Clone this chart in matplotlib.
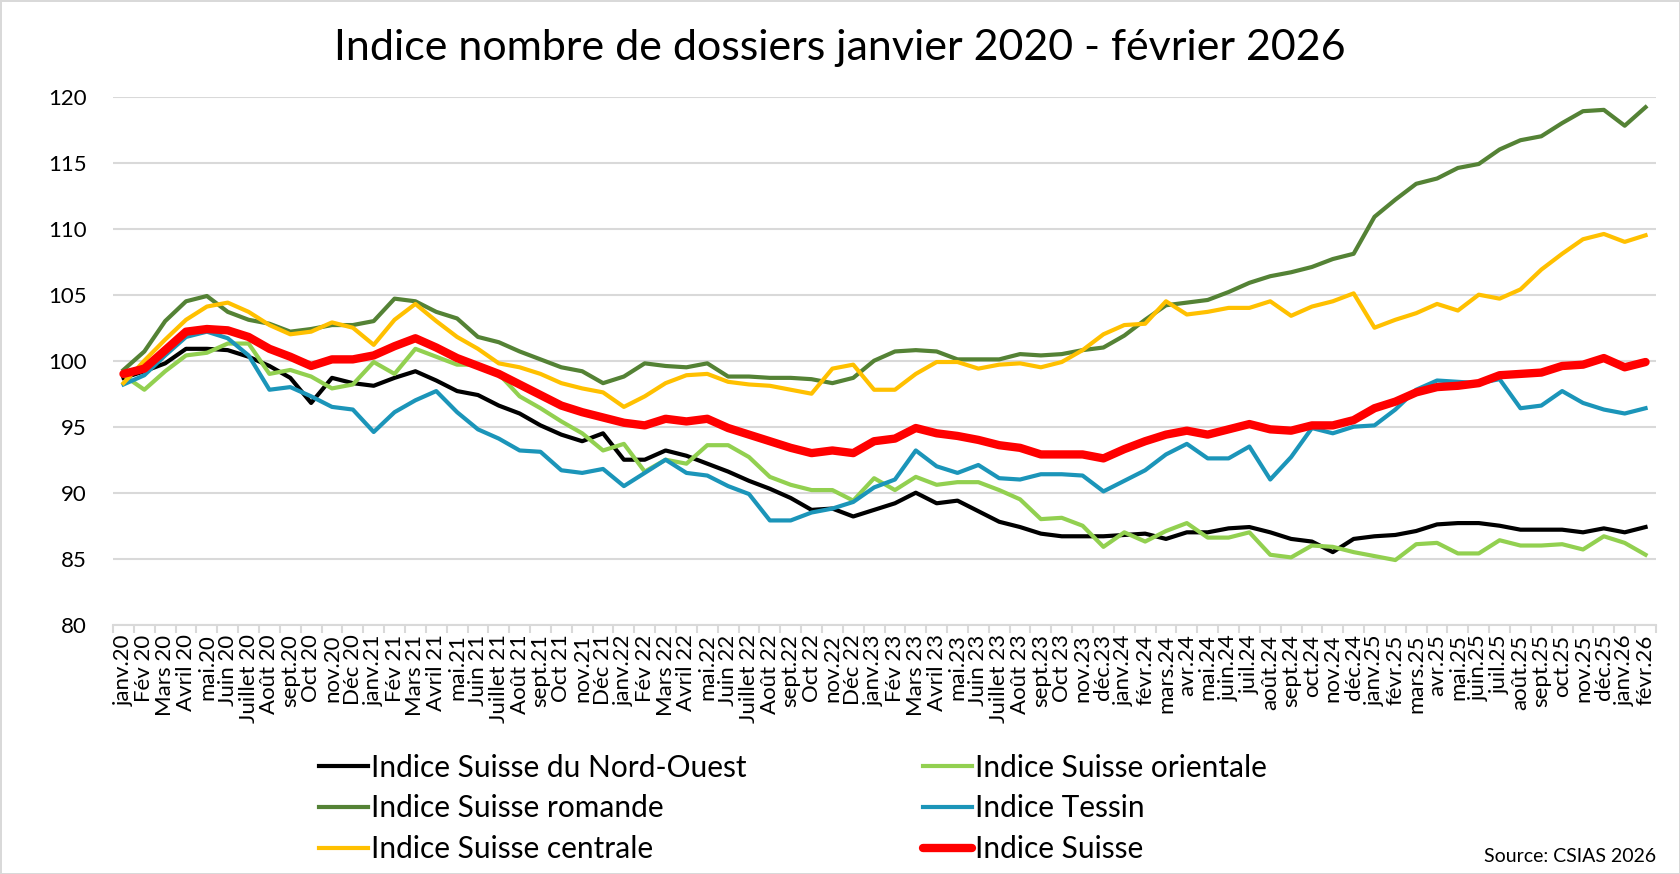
import matplotlib.pyplot as plt

months = ["janv.20", "Fév 20", "Mars 20", "Avril 20", "mai.20", "Juin 20", "Juillet 20", "Août 20",
          "sept.20", "Oct 20", "nov.20", "Déc 20",
          "janv.21", "Fév 21", "Mars 21", "Avril 21", "mai.21", "Juin 21", "Juillet 21", "Août 21",
          "sept.21", "Oct 21", "nov.21", "Déc 21",
          "janv.22", "Fév 22", "Mars 22", "Avril 22", "mai.22", "Juin 22", "Juillet 22", "Août 22",
          "sept.22", "Oct 22", "nov.22", "Déc 22",
          "janv.23", "Fév 23", "Mars 23", "Avril 23", "mai.23", "Juin 23", "Juillet 23", "Août 23",
          "sept.23", "Oct 23", "nov.23", "déc.23",
          "janv.24", "févr.24", "mars.24", "avr.24", "mai.24", "juin.24", "juil.24", "août.24",
          "sept.24", "oct.24", "nov.24", "déc.24",
          "janv.25", "févr.25", "mars.25", "avr.25", "mai.25", "juin.25", "juil.25", "août.25",
          "sept.25", "oct.25", "nov.25", "déc.25",
          "janv.26", "févr.26"]

nord_ouest = [98.7, 99.2, 99.8, 100.9, 100.9, 100.8, 100.3, 99.6, 98.7, 96.8, 98.7, 98.3,
              98.1, 98.7, 99.2, 98.5, 97.7, 97.4, 96.6, 96.0, 95.1, 94.4, 93.9, 94.5,
              92.5, 92.5, 93.2, 92.8, 92.2, 91.6, 90.9, 90.3, 89.6, 88.7, 88.8, 88.2,
              88.7, 89.2, 90.0, 89.2, 89.4, 88.6, 87.8, 87.4, 86.9, 86.7, 86.7, 86.7,
              86.8, 86.9, 86.5, 87.0, 87.0, 87.3, 87.4, 87.0, 86.5, 86.3, 85.5, 86.5,
              86.7, 86.8, 87.1, 87.6, 87.7, 87.7, 87.5, 87.2, 87.2, 87.2, 87.0, 87.3,
              87.0, 87.4]

orientale = [98.9, 97.8, 99.2, 100.4, 100.6, 101.3, 101.3, 99.0, 99.3, 98.8, 97.9, 98.2,
             99.9, 99.0, 100.9, 100.3, 99.7, 99.7, 99.0, 97.3, 96.4, 95.4, 94.5, 93.2,
             93.7, 91.6, 92.5, 92.2, 93.6, 93.6, 92.7, 91.2, 90.6, 90.2, 90.2, 89.4,
             91.1, 90.2, 91.2, 90.6, 90.8, 90.8, 90.2, 89.5, 88.0, 88.1, 87.5, 85.9,
             87.0, 86.3, 87.1, 87.7, 86.6, 86.6, 87.0, 85.3, 85.1, 86.0, 85.9, 85.5,
             85.2, 84.9, 86.1, 86.2, 85.4, 85.4, 86.4, 86.0, 86.0, 86.1, 85.7, 86.7,
             86.2, 85.3]

romande = [99.3, 100.7, 103.0, 104.5, 104.9, 103.7, 103.1, 102.8, 102.2, 102.4, 102.7, 102.7,
           103.0, 104.7, 104.5, 103.7, 103.2, 101.8, 101.4, 100.7, 100.1, 99.5, 99.2, 98.3,
           98.8, 99.8, 99.6, 99.5, 99.8, 98.8, 98.8, 98.7, 98.7, 98.6, 98.3, 98.7,
           100.0, 100.7, 100.8, 100.7, 100.1, 100.1, 100.1, 100.5, 100.4, 100.5, 100.8, 101.0,
           101.9, 103.1, 104.2, 104.4, 104.6, 105.2, 105.9, 106.4, 106.7, 107.1, 107.7, 108.1,
           110.9, 112.2, 113.4, 113.8, 114.6, 114.9, 116.0, 116.7, 117.0, 118.0, 118.9, 119.0,
           117.8, 119.2]

tessin = [98.2, 98.9, 100.4, 101.8, 102.2, 101.7, 100.4, 97.8, 98.0, 97.3, 96.5, 96.3,
          94.6, 96.1, 97.0, 97.7, 96.1, 94.8, 94.1, 93.2, 93.1, 91.7, 91.5, 91.8,
          90.5, 91.5, 92.5, 91.5, 91.3, 90.5, 89.9, 87.9, 87.9, 88.5, 88.8, 89.3,
          90.4, 91.0, 93.2, 92.0, 91.5, 92.1, 91.1, 91.0, 91.4, 91.4, 91.3, 90.1,
          90.9, 91.7, 92.9, 93.7, 92.6, 92.6, 93.5, 91.0, 92.7, 94.9, 94.5, 95.0,
          95.1, 96.3, 97.8, 98.5, 98.4, 98.3, 98.6, 96.4, 96.6, 97.7, 96.8, 96.3,
          96.0, 96.4]

centrale = [98.3, 100.0, 101.6, 103.1, 104.1, 104.4, 103.7, 102.7, 102.0, 102.2, 102.9, 102.5,
            101.2, 103.1, 104.3, 103.0, 101.8, 100.9, 99.8, 99.5, 99.0, 98.3, 97.9, 97.6,
            96.5, 97.3, 98.3, 98.9, 99.0, 98.4, 98.2, 98.1, 97.8, 97.5, 99.4, 99.7,
            97.8, 97.8, 99.0, 99.9, 99.9, 99.4, 99.7, 99.8, 99.5, 99.9, 100.8, 102.0,
            102.7, 102.8, 104.5, 103.5, 103.7, 104.0, 104.0, 104.5, 103.4, 104.1, 104.5, 105.1,
            102.5, 103.1, 103.6, 104.3, 103.8, 105.0, 104.7, 105.4, 106.9, 108.1, 109.2, 109.6,
            109.0, 109.5]

suisse = [99.0, 99.4, 100.8, 102.2, 102.4, 102.3, 101.8, 100.9, 100.3, 99.6, 100.1, 100.1,
          100.4, 101.1, 101.7, 101.0, 100.2, 99.6, 99.0, 98.2, 97.4, 96.6, 96.1, 95.7,
          95.3, 95.1, 95.6, 95.4, 95.6, 94.9, 94.4, 93.9, 93.4, 93.0, 93.2, 93.0,
          93.9, 94.1, 94.9, 94.5, 94.3, 94.0, 93.6, 93.4, 92.9, 92.9, 92.9, 92.6,
          93.3, 93.9, 94.4, 94.7, 94.4, 94.8, 95.2, 94.8, 94.7, 95.1, 95.1, 95.5,
          96.4, 96.9, 97.6, 98.0, 98.1, 98.3, 98.9, 99.0, 99.1, 99.6, 99.7, 100.2,
          99.5, 99.9]

plt.rcParams['font.family'] = ['Lato', 'DejaVu Sans']

fig = plt.figure(figsize=(16.8, 8.74), dpi=100)
fig.patch.set_edgecolor('#d9d9d9')
fig.patch.set_linewidth(2)
ax = fig.add_axes([0.0673, 0.2852, 0.9184, 0.6042])

x = list(range(len(months)))
lw = 3.0
l_no, = ax.plot(x, nord_ouest, color='black', lw=lw, label='Indice Suisse du Nord-Ouest')
l_or, = ax.plot(x, orientale, color='#92d050', lw=lw, label='Indice Suisse orientale')
l_ro, = ax.plot(x, romande, color='#548235', lw=lw, label='Indice Suisse romande')
l_te, = ax.plot(x, tessin, color='#1b95b9', lw=lw, label='Indice Tessin')
l_ce, = ax.plot(x, centrale, color='#ffc000', lw=lw, label='Indice Suisse centrale')
l_su, = ax.plot(x, suisse, color='#ff0000', lw=6.0, solid_capstyle='round', label='Indice Suisse')
ax.axhline(100, color='#9a9a9a', lw=2.4, ls=(0, (0, 3.1)), dash_capstyle='round', alpha=0.85)

ax.set_xlim(-0.5, len(months) - 0.5)
ax.set_ylim(80, 120)
ax.set_yticks(range(80, 121, 5))
ax.set_xticks(x)
ax.set_xticklabels(months, rotation=90, fontsize=16)
ax.set_xticks([i - 0.5 for i in range(len(months) + 1)], minor=True)
ax.tick_params(axis='x', which='major', length=0, pad=7)
ax.tick_params(axis='x', which='minor', length=6, color='#d9d9d9', width=1.5)
ax.tick_params(axis='y', length=0, pad=19, labelsize=16)
ax.grid(axis='y', color='#d9d9d9', lw=1.5)
ax.set_axisbelow(True)
for s in ['top', 'right', 'left']:
    ax.spines[s].set_visible(False)
ax.spines['bottom'].set_color('#d9d9d9')
ax.spines['bottom'].set_linewidth(1.5)

fig.text(0.5, 0.945, 'Indice nombre de dossiers janvier 2020 - février 2026', ha='center', va='center', fontsize=31)

handles = [l_no, l_ro, l_ce, l_or, l_te, l_su]
fig.legend(handles=handles, labels=[h.get_label() for h in handles], ncol=2, loc='center',
           bbox_to_anchor=(0.472, 0.075), frameon=False, fontsize=21.5, handlelength=1.65,
           handletextpad=0.1, columnspacing=5.9, labelspacing=0.42)

fig.text(0.9857, 0.0195, 'Source: CSIAS 2026', ha='right', va='center', fontsize=14)

fig.savefig('out.png', dpi=100, edgecolor=fig.get_edgecolor())
